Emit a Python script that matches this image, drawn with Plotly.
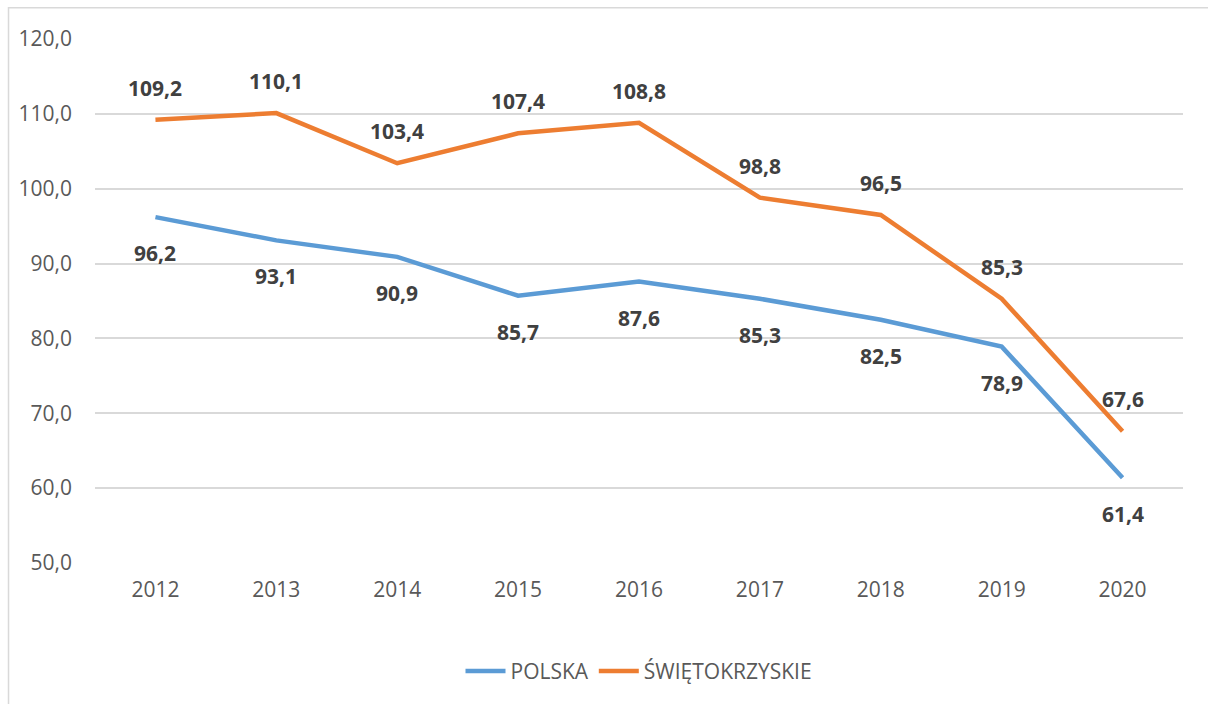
import plotly.graph_objects as go

years = ["2012", "2013", "2014", "2015", "2016", "2017", "2018", "2019", "2020"]
polska = [96.2, 93.1, 90.9, 85.7, 87.6, 85.3, 82.5, 78.9, 61.4]
swietokrzyskie = [109.2, 110.1, 103.4, 107.4, 108.8, 98.8, 96.5, 85.3, 67.6]
y_ticks = [50, 60, 70, 80, 90, 100, 110, 120]

BLUE = "#5B9BD5"
ORANGE = "#ED7D31"
FONT = "Open Sans"
SIZE = 21


def fmt(v):
    return f"{v:.1f}".replace(".", ",")


fig = go.Figure()
fig.add_trace(go.Scatter(x=years, y=polska, mode="lines", name="POLSKA",
                         line=dict(color=BLUE, width=4.5)))
fig.add_trace(go.Scatter(x=years, y=swietokrzyskie, mode="lines", name="ŚWIĘTOKRZYSKIE",
                         line=dict(color=ORANGE, width=4.5)))

# value labels: regional series above the line, national series below
# (category index used for x so year strings are not read as numbers)
for i, v in enumerate(swietokrzyskie):
    fig.add_annotation(x=i, y=v, text=f"<b>{fmt(v)}</b>", showarrow=False,
                       yshift=32, font=dict(family=FONT, size=SIZE, color="#404040"))
for i, v in enumerate(polska):
    fig.add_annotation(x=i, y=v, text=f"<b>{fmt(v)}</b>", showarrow=False,
                       yshift=-36, font=dict(family=FONT, size=SIZE, color="#404040"))

# chart-area frame
fig.add_shape(type="rect", xref="paper", yref="paper",
              x0=-0.0795, x1=1.03, y0=-0.28, y1=1.0598,
              line=dict(color="#D9D9D9", width=1.5), fillcolor="rgba(0,0,0,0)", layer="below")

fig.update_layout(
    width=1208, height=704,
    margin=dict(l=95, r=25, t=39, b=138),
    paper_bgcolor="white", plot_bgcolor="white",
    font=dict(family=FONT, size=SIZE, color="#595959"),
    showlegend=True,
    legend=dict(orientation="h", x=0.5, xanchor="center", y=-0.207, yanchor="middle",
                font=dict(family=FONT, size=SIZE, color="#595959"), itemwidth=40),
)
fig.update_xaxes(type="category", range=[-0.5, 8.5], showgrid=False, showline=False,
                 zeroline=False, ticks="", ticklabelstandoff=12,
                 tickfont=dict(size=SIZE, color="#595959"))
fig.update_yaxes(range=[50, 120], tickvals=y_ticks, ticktext=[fmt(t) for t in y_ticks],
                 showgrid=True, gridcolor="#D9D9D9", gridwidth=1.5, zeroline=False,
                 showline=False, ticks="", ticklabelstandoff=22,
                 tickfont=dict(size=SIZE, color="#595959"))

fig.write_html("out.html")
